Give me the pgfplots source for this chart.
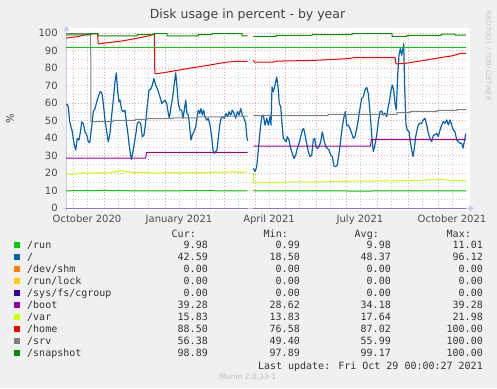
\documentclass[border=0pt]{standalone}
\usepackage{pgfplots}
\pgfplotsset{compat=1.18}
\usepackage{fontspec}
\setmainfont{DejaVu Sans}
\newfontfamily\legfont{DejaVu Sans Mono}
\usetikzlibrary{arrows.meta}
\definecolor{bgc}{HTML}{F0F0F0}
\definecolor{runc}{HTML}{00CC00}
\definecolor{rootc}{HTML}{0066B3}
\definecolor{shmc}{HTML}{FF8000}
\definecolor{lockc}{HTML}{FFCC00}
\definecolor{cgc}{HTML}{330099}
\definecolor{bootc}{HTML}{990099}
\definecolor{varc}{HTML}{CCFF00}
\definecolor{homec}{HTML}{FF0000}
\definecolor{srvc}{HTML}{808080}
\definecolor{snapc}{HTML}{008F00}
\definecolor{gridred}{RGB}{245,165,165}
\definecolor{gridgray}{RGB}{205,205,205}
\definecolor{axc}{RGB}{196,204,246}
\newcommand{\legrow}[7]{%
  \fill[#2] (14,#1-2.8) rectangle (20,#1+2.8);
  \node[anchor=base west, inner sep=0pt, text=black!80] at (27,#1-3.6) {\legfont\fontsize{10}{12}\selectfont #3};
  \node[anchor=base east, inner sep=0pt, text=black!80] at (208,#1-3.6) {\legfont\fontsize{10}{12}\selectfont #4};
  \node[anchor=base east, inner sep=0pt, text=black!80] at (300,#1-3.6) {\legfont\fontsize{10}{12}\selectfont #5};
  \node[anchor=base east, inner sep=0pt, text=black!80] at (391,#1-3.6) {\legfont\fontsize{10}{12}\selectfont #6};
  \node[anchor=base east, inner sep=0pt, text=black!80] at (483,#1-3.6) {\legfont\fontsize{10}{12}\selectfont #7};
}
\begin{document}
\begin{tikzpicture}[x=1pt,y=1pt]
\fill[bgc] (0,0) rectangle (497,388);
\useasboundingbox (0,0) rectangle (497,388);
\fill[white] (66,177) rectangle (470,360);
% axis lines (under the data)
\draw[axc, line width=1pt, -{Triangle[length=5pt,width=6pt]}] (63,179.7) -- (474,179.7);
\draw[axc, line width=1pt, -{Triangle[length=5pt,width=6pt]}] (66.5,177) -- (66.5,362);
\begin{axis}[
  at={(66pt,179.7pt)}, anchor=south west,
  scale only axis, width=400pt, height=175pt,
  xmin=-7, xmax=393, ymin=0, ymax=100,
  axis x line=bottom, axis y line=left,
  axis line style={draw=none},
  tick style={draw=none},
  xtick={0,31,61,92,123,151,182,212,243,273,304,335,365},
  xticklabels={,,,,,,,,,,,,},
  minor xtick={14,45,75,106,137,165,196,226,257,287,318,349,379},
  extra x ticks={14,106,196,287,379},
  extra x tick labels={October 2020,January 2021,April 2021,July 2021,October 2021},
  extra x tick style={grid=none},
  ytick={0,10,...,100},
  minor ytick={5,15,...,95},
  grid=both,
  major grid style={draw=gridred, line width=0.7pt, dash pattern=on 1pt off 2pt},
  minor grid style={draw=gridgray, line width=0.7pt, dash pattern=on 1pt off 2pt},
  tick label style={font=\fontsize{10}{12}\selectfont, text=black!70},
  xticklabel style={anchor=north, inner sep=0pt, yshift=-4pt},
  yticklabel style={anchor=east, inner sep=0pt, xshift=-6pt},
  /pgf/number format/assume math mode=true,
  unbounded coords=jump,
  every axis plot/.append style={line width=1pt, line join=round, mark=none},
]
% /run
\addplot[runc] coordinates {(-7,10)(30,10.2)(60,10)(90,9.9)(120,10.1)(150,10)(174.7,9.9)(177,nan)(180.3,10)(240,10)(298,9.8)(300,10)(393,10)};
% /
\addplot[rootc, line width=1.2pt] coordinates {
(-7,59)(-6,59.5)(-4.7,58)(-3.3,49.4)(-2,46.6)(-0.7,43.7)(1,37)(2.7,33.3)(4.3,40)(6,39)(7.7,44.7)(8.7,49.4)(10.3,48.5)(12,43.7)(13.7,41.9)(15.3,38)(16.7,37.5)(18.7,46.6)(20.3,55.2)(22,57)(23.7,60.8)(25.3,63.7)(27,66.6)(28.7,66.2)(29.7,62.8)(31,56.1)(32,50.4)(33.7,43.7)(35.3,38)(37,42.8)(38.7,53.3)(40.3,61.8)(42,72.3)(43.3,77.4)(44.7,66.6)(46,60.8)(47,61.8)(48.7,56.1)(50.3,55.2)(52,56.1)(53.3,49.4)(54.7,43.7)(56,37)(57.3,31.4)(58.3,28)(59.7,31.4)(61.3,37)(62.7,41.9)(64.3,48.5)(66,49.4)(67.7,48.5)(69.3,40.9)(71,41.9)(72.7,49.4)(74.3,59)(76,67.5)(78,68.4)(79.3,70.4)(81,74.1)(82.7,70.4)(84.3,68.4)(85.3,66.6)(87,63.7)(88.7,59.9)(90.3,60.8)(92,61.8)(93.7,59.9)(95.3,54.2)(96.3,51.4)(98,58)(99.7,63.7)(101.3,71.3)(102.7,77.4)(104,69.4)(105.3,59.9)(107,56.1)(108.7,56.1)(110,51.4)(111.3,56.1)(112.7,61.8)(114,54.2)(115.3,53.3)(116.7,46.6)(118,39)(119.3,41.9)(121,43.7)(122.7,46.6)(124,51.4)(125.3,56.1)(126.7,54.2)(128,57)(129.3,53.3)(130.7,56.1)(132,52.3)(133.7,50.4)(135.3,51.4)(137,47.5)(138.7,40.9)(140,33.3)(141.3,31.4)(142.7,32.4)(144,33.3)(145.3,40)(146.7,47.5)(148,51.4)(149.7,52.3)(151.3,51.4)(153,54.2)(154.7,52.3)(156,55.2)(157.7,53.3)(159.3,56.1)(161,54.2)(162.7,51.4)(164.3,55.2)(166,53.3)(167.7,57)(169.3,53.3)(171,51.4)(172.7,48.5)(174,40)(174.7,38.5)
(177,nan)
(180.3,22.9)(182,21)(183.7,23.8)(185.3,33.3)(187,43.7)(188.7,52.3)(190.3,53.3)(192,47.5)(193.7,51.4)(195.3,47.5)(197,52.3)(198,47.5)(199,69.4)(200.3,66.6)(202,70.4)(203.7,75.1)(205,69.4)(206.3,59.9)(207.7,58)(209,48.5)(210.3,40)(211.7,39)(213,38)(214.3,40.9)(216,39)(217.7,34.2)(219.3,31.4)(221,28.5)(222.7,30.4)(224.3,34.2)(226,37)(227.7,40.9)(229.3,44.7)(230.7,45.6)(232,41.9)(233.7,37)(235.3,32.4)(237,29.5)(238.7,30.4)(240.3,39)(241.7,40)(243,35.2)(244.3,34.2)(246,35.2)(247.7,38)(249.3,43.7)(251,39)(252.7,35.2)(254.3,34.2)(256,33.3)(257.7,30.4)(259.3,29.5)(261,24.2)(262.7,23.8)(264.3,24.7)(266,31.4)(267.7,39)(269.3,46.6)(271,52.3)(272.3,55.2)(273.7,47.5)(275.3,47.5)(277,45.6)(278.7,42.8)(280.3,40)(282,41)(283.7,45.6)(285.3,50.4)(286.3,55)(287,57.1)(288.7,62.8)(290.3,63.7)(292,67.5)(293.7,69.1)(295.3,65.6)(297,55.2)(298.7,41.9)(300.3,32.4)(302,36.2)(303.7,41.9)(305.3,49.5)(307,55.2)(308.7,55.6)(310.3,53.3)(312,54.3)(313.7,52.4)(315.3,58.1)(316.7,61.9)(318,67.5)(319.3,70.4)(320.7,67.5)(322,60)(323.3,56.2)(324.7,76.1)(326,87.5)(327.3,91.3)(328.7,87.5)(329.7,90.4)(330.7,94)(331.7,68.5)(333,47.6)(334.3,44.7)(336,43.8)(337.3,38.1)(338.7,33.4)(340,29.6)(341.3,34.3)(342.7,41)(344,44.7)(345.3,47.6)(347,48.6)(348.7,48.6)(350.3,50.5)(352,51.4)(353.7,47.6)(355.3,42.9)(357,40)(358.7,38.1)(360.3,41.9)(362,41.9)(363.7,42.9)(365.3,41)(367,44.7)(368.7,47.6)(370.3,49.5)(372,48.6)(373.7,50.5)(375.3,47.6)(377,50.5)(378.7,47.6)(380.3,44.7)(382,43.8)(383.7,39)(385.3,38.1)(387,37.2)(388.7,37.2)(390,34.3)(391.3,38.1)(392.7,42.6)};
% /dev/shm, /run/lock, /sys/fs/cgroup (all zero)
\addplot[shmc] coordinates {(-7,0)(174.7,0)(177,nan)(180.3,0)(393,0)};
\addplot[lockc] coordinates {(-7,0)(174.7,0)(177,nan)(180.3,0)(393,0)};
\addplot[cgc!55!white] coordinates {(-7,0)(174.7,0)(177,nan)(180.3,0)(393,0)};
% /boot
\addplot[bootc] coordinates {(-7,28.6)(72.7,28.6)(73.5,31.9)(174.7,31.9)(177,nan)(180.3,35.5)(297.5,35.5)(298.3,39.3)(393,39.3)};
% /var
\addplot[varc] coordinates {(-7,20)(-4,19.6)(-1,19.3)(2,19.6)(5,20)(10,20.2)(15,19.9)(20,20.2)(25,20.1)(30,20.4)(35,20.2)(40,20.7)(45,21.2)(48,21.6)(52,21)(56,20.8)(62,20.3)(68,20.5)(75,20.6)(80,20.1)(85,20)(92,20.4)(100,20.5)(108,20.2)(115,20.4)(122,20.3)(130,20.5)(138,20.4)(145,20.7)(152,20.6)(160,20.9)(166,20.5)(170,20.7)(174.7,20.8)(177,nan)(180.3,20.2)(180.8,14.6)(195,14.6)(210,14.9)(225,15.1)(240,15)(265,15.3)(280,15.5)(300,15.6)(320,15.7)(345,15.9)(355,16.2)(367,16.5)(375,16.1)(385,15.9)(393,15.9)};
% /home
\addplot[homec] coordinates {(-7,97.2)(-1.3,97.7)(5.3,98.1)(8.7,98.7)(12,99.05)(18.7,99.6)(24.5,99.6)(25.3,93.9)(30.3,94.3)(38.7,94.9)(48.7,95.6)(58.7,96.6)(68.7,97.7)(77,98.7)(80.3,99.4)(81.3,99.5)(81.8,77)(85,77)(95,77.9)(105,78.9)(115,79.9)(125,80.8)(135,81.7)(145,82.7)(155,83.6)(165,84)(174.7,84)(177,nan)(180.3,84.7)(181.5,83.5)(200,83.5)(204,84.1)(240,84.5)(274,85.5)(282,86.1)(322,86.1)(323,82.5)(332,82.8)(342,83.7)(352,84.6)(362,85.6)(372,86.5)(379,87.1)(387,88.4)(393,88.6)};
% /srv
\addplot[srvc] coordinates {(-7,100)(17.7,100)(17.9,49.5)(40,49.5)(40.1,50.2)(62,50.2)(62.1,50.8)(74,50.8)(74.1,51.2)(100,51.2)(100.1,51.7)(124,51.7)(124.1,52.2)(153,52.2)(153.1,52.7)(174.7,52.7)(177,nan)(180.3,53)(255,53)(255.1,53.6)(324,53.6)(324.1,54.7)(337,54.7)(337.1,55.4)(364,55.4)(364.1,56)(384,56)(384.1,56.4)(393,56.4)};
% /snapshot
\addplot[snapc] coordinates {(-7,99.05)(17,99.05)(17.1,99.8)(25,99.8)(25.1,98.5)(64,98.5)(64.1,99.2)(80,99.2)(80.1,99.8)(94,99.8)(94.1,98.5)(125,98.5)(125.1,99.2)(139,99.2)(139.1,99.8)(169,99.8)(169.1,98.5)(174.7,98.5)(177,nan)(180.3,98.3)(203,98.3)(203.1,98.8)(239,98.8)(239.1,99.2)(279,99.2)(279.1,99.8)(319,99.8)(319.1,98.3)(334,98.3)(334.1,98.8)(368,98.8)(368.1,99.5)(382,99.5)(382.1,98.9)(393,98.9)};
% warning rule at 92
\addplot[runc] coordinates {(-7,92)(393,92)};
\end{axis}
% title and side texts
\node[anchor=base, inner sep=0pt, text=black!75] at (247.5,369.5) {\fontsize{12.5}{14}\selectfont Disk usage in percent - by year};
\node[rotate=90, inner sep=0pt, text=black!75] at (10,269) {\fontsize{10}{12}\selectfont \%};
\node[rotate=-90, inner sep=0pt, text=black!22] at (488.5,332) {\fontsize{7}{8}\selectfont RRDTOOL / TOBI OETIKER};
% legend
\node[anchor=base east, inner sep=0pt, text=black!80] at (196,150.4) {\legfont\fontsize{10}{12}\selectfont Cur:};
\node[anchor=base east, inner sep=0pt, text=black!80] at (288,150.4) {\legfont\fontsize{10}{12}\selectfont Min:};
\node[anchor=base east, inner sep=0pt, text=black!80] at (379,150.4) {\legfont\fontsize{10}{12}\selectfont Avg:};
\node[anchor=base east, inner sep=0pt, text=black!80] at (471,150.4) {\legfont\fontsize{10}{12}\selectfont Max:};
\legrow{143}{runc}{/run}{9.98}{0.99}{9.98}{11.01}
\legrow{131}{rootc}{/}{42.59}{18.50}{48.37}{96.12}
\legrow{119}{shmc}{/dev/shm}{0.00}{0.00}{0.00}{0.00}
\legrow{107}{lockc}{/run/lock}{0.00}{0.00}{0.00}{0.00}
\legrow{95}{cgc}{/sys/fs/cgroup}{0.00}{0.00}{0.00}{0.00}
\legrow{83}{bootc}{/boot}{39.28}{28.62}{34.18}{39.28}
\legrow{71}{varc}{/var}{15.83}{13.83}{17.64}{21.98}
\legrow{59}{homec}{/home}{88.50}{76.58}{87.02}{100.00}
\legrow{47}{srvc}{/srv}{56.38}{49.40}{55.99}{100.00}
\legrow{35}{snapc}{/snapshot}{98.89}{97.89}{99.17}{100.00}
\node[anchor=base east, inner sep=0pt, text=black!80] at (483,18.8) {\legfont\fontsize{10}{12}\selectfont Last update: Fri Oct 29 00:00:27 2021};
\node[anchor=base, inner sep=0pt, text=black!25] at (248,8.7) {\fontsize{7.5}{9}\selectfont Munin 2.0.33-1};
\end{tikzpicture}
\end{document}
